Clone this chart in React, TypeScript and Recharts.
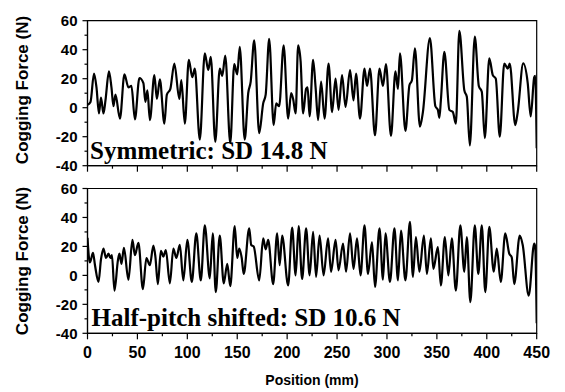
import { LineChart, Line, XAxis, YAxis, ReferenceArea } from "recharts";

// Symmetric magnet layout — peaks / troughs
const symPos = [
  0, 3, 6.5, 9, 11.5, 13.5, 16, 18, 21.5, 24, 26, 28, 32.5, 37, 41, 44, 47.5, 52, 56, 58,
  60, 62.5, 67, 69.5, 72.5, 77, 79.5, 83, 87, 92, 94, 97.5, 101.5, 105, 107.5, 112.5, 117.5, 121, 123.5, 128,
  132.5, 135, 138, 143, 147, 150, 152.5, 157.5, 161, 163.5, 167, 172, 176, 178.5, 182, 186.5, 189, 192, 196.5, 201,
  204, 206, 208.5, 211, 213.5, 216, 219, 220.5, 222.5, 226, 228.5, 231, 234, 237.5, 241.5, 245, 248.5, 251.5, 255, 258.5,
  263, 266.5, 269, 273, 277.5, 280, 283, 288, 292.5, 296, 299, 304, 308.5, 311, 313, 318.5, 322.5, 325, 328, 333,
  336, 343, 348.5, 351, 352.5, 354, 357.5, 362.5, 366, 369, 372.5, 377.5, 380, 383, 388, 392, 395, 398, 402.5, 406,
  409, 413, 417.5, 421, 423, 428.5, 431, 436.5, 441, 444, 447.5, 448.5, 450,
];
const symForce = [
  2, 4, 23.5, 14, -4, 7, -4, 5, 25, 14, 1, 9, -7.5, 23, 14, 15, -8, 20.5, 17, 4,
  12, -8.5, 22.5, 6, 19.5, -11, 9, 13, 30.5, 6, 19, -11, 33, 21, 27, -22, 37.5, 26, 35, -23.5,
  27, 22, 36, -24.5, 30, 23, 42, -22, 10, 18, 46.5, -17.5, 3, 9, 47.5, -12, 3, 1, 43, -7.5,
  10, 6, -4, 43, 32, -4, 13, 14, -6, 33, 14, -8.5, 18, -7.5, 30.5, -3, 20, -1.5, 22.5, 0.5,
  26, 5, 23.5, -7.5, 27, 15, 27, -19, 27, 15, 30, -19.5, 25, 13, 37.5, -16, 15.5, 19, 41, -13,
  -3, 48, 1, -1.5, -7, 5, 38.5, -1.5, -3, -11, 53, 12, 7.5, -26, 49, 15, 11, -21, 34, 22.5,
  20, -20, 30.5, 27, 30.5, -12, -3, 30.5, 17, -6, 21, 22, -28,
];

// Half-pitch shifted layout
const halfPos = [
  0, 1.5, 2.5, 5.5, 7.5, 11, 13.5, 16, 18.5, 21, 23, 24.5, 27, 30.5, 32, 34, 36.5, 41, 45, 47.5,
  51, 55.5, 59, 62.5, 66, 68, 70.5, 73.5, 76, 78.5, 82.5, 86, 89, 92.5, 96, 100, 104.5, 109, 113.5, 117.5,
  122.5, 125.5, 128.5, 132.5, 136.5, 140, 143, 147.5, 150, 152, 154.5, 156.5, 162, 164, 166.5, 172, 176, 178.5, 181, 186,
  190, 192.5, 195, 201, 205, 208.5, 211.5, 215, 219, 222.5, 226, 229, 232.5, 236.5, 241, 244, 248.5, 251.5, 256, 259,
  263, 266.5, 270, 273.5, 277.5, 281, 285, 288, 292.5, 296, 298.5, 303, 307.5, 311, 314, 318.5, 323, 326, 329, 332.5,
  337, 340, 344, 346.5, 351, 354, 358, 361.5, 365, 369, 373.5, 377.5, 380, 383.5, 388, 391.5, 395, 398.5, 402.5, 407,
  410, 414, 418.5, 422.5, 425, 427.5, 433, 436, 442, 447.5, 448.5, 450,
];
const halfForce = [
  26, 12, 9, 15.5, 7, -4.5, 11, 18.5, 12, 15, 12, 14, -10.5, 10.5, 15, 8, 19, -3, 24.5, 14,
  22.5, -9.5, 12, 7, 20.5, 13, -6, 17, 13, 17.5, -5.5, 18.5, 12, 21, -3.5, 24.5, -4.5, 29, -3.5, 34.5,
  -2, 29, -11.5, 27.5, -5.5, 8, -7.5, 34, 12, 18.5, 12, 1, 32.5, 21, 20, -3.5, 25.5, 18, 24.5, -6,
  29, 7, 27.5, -7, 33, 0, 34, -2.5, 32.5, 0, 30, -1, 27.5, 0, 25.5, 2.5, 24.5, 3.5, 22, 2.5,
  29, 4.5, 25.5, 0, 34.5, 1, 23, -8, 32.5, -3, 29, -4.5, 32.5, -3.5, 31, -3.5, 37, -1, 26.5, 2.5,
  27.5, 1, 25.5, 4.5, 19.5, -7, 26.5, 0, 25.5, -10.5, 34.5, 2.5, 26.5, -18.5, 34.5, 1, 34.5, -11.5, 33.5, 2.5,
  18.5, -4.5, 29, 15, 12.5, -6, 27.5, 21, -14, 22, 20, -33,
];

const xTicks = [0, 25, 50, 75, 100, 125, 150, 175, 200, 225, 250, 275, 300, 325, 350, 375, 400, 425, 450];
const yTicks = [-40, -30, -20, -10, 0, 10, 20, 30, 40, 50, 60];

const sans = "'Liberation Sans', Arial, sans-serif";
const serif = "'Liberation Serif', 'Times New Roman', serif";

const symData = symPos.map((p, i) => ({ pos: p, force: symForce[i] }));
const halfData = halfPos.map((p, i) => ({ pos: p, force: halfForce[i] }));

function YTick({ x, y, payload }: any) {
  const v = payload.value;
  const major = v % 20 === 0;
  return (
    <g>
      <line x1={x - (major ? 5 : 3)} x2={x} y1={y} y2={y} stroke="#000" strokeWidth={1.2} />
      {major && (
        <text x={x - 10} y={y} textAnchor="end" dominantBaseline="central"
          fontFamily={sans} fontWeight="bold" fontSize={15} fill="#000">
          {v}
        </text>
      )}
    </g>
  );
}

function XTick({ x, y, payload, labels }: any) {
  const v = payload.value;
  const major = v % 50 === 0;
  return (
    <g>
      <line x1={x} x2={x} y1={y} y2={y + (major ? 6 : 3)} stroke="#000" strokeWidth={1.2} />
      {labels && major && (
        <text x={x} y={y + 19} textAnchor="middle" dominantBaseline="central"
          fontFamily={sans} fontWeight="bold" fontSize={16} fill="#000">
          {v}
        </text>
      )}
    </g>
  );
}

function Panel({ data, top, height, margin, xHeight, labels }: any) {
  return (
    <div style={{ position: "absolute", left: 0, top }}>
      <LineChart width={565} height={height} data={data} margin={margin}>
        <XAxis type="number" dataKey="pos" domain={[0, 450]} ticks={xTicks} interval={0}
          allowDataOverflow height={xHeight} tickSize={0} tickMargin={0}
          axisLine={{ stroke: "#000", strokeWidth: 1.2 }}
          tick={(p: any) => <XTick {...p} labels={labels} />} />
        <YAxis type="number" domain={[-40, 60]} ticks={yTicks} interval={0}
          allowDataOverflow width={60} tickSize={0} tickMargin={0}
          axisLine={{ stroke: "#000", strokeWidth: 1.2 }}
          tick={(p: any) => <YTick {...p} />} />
        <ReferenceArea x1={0} x2={450} y1={-40} y2={60} fill="none" fillOpacity={0}
          stroke="#000" strokeWidth={1.2} />
        <Line type="monotone" dataKey="force" stroke="#000" strokeWidth={2.2}
          dot={false} isAnimationActive={false} />
      </LineChart>
    </div>
  );
}

export default function App() {
  return (
    <div style={{ position: "absolute", left: 0, top: 0, width: 565, height: 392, background: "#fff" }}>
      <Panel data={symData} top={0} height={181} xHeight={15}
        margin={{ top: 20.7, right: 28.3, bottom: 0.3, left: 27.5 }} labels={false} />
      <Panel data={halfData} top={168} height={224} xHeight={40}
        margin={{ top: 20.5, right: 28.3, bottom: 18.7, left: 27.5 }} labels={true} />
      <svg width={565} height={392} style={{ position: "absolute", left: 0, top: 0, pointerEvents: "none" }}>
        <text x={90} y={159} fontFamily={serif} fontWeight="bold" fontSize={25} fill="#000">
          Symmetric: SD 14.8 N
        </text>
        <text x={91.5} y={325.7} fontFamily={serif} fontWeight="bold" fontSize={25} fill="#000">
          Half-pitch shifted: SD 10.6 N
        </text>
        <text transform="translate(28,90) rotate(-90)" textAnchor="middle"
          fontFamily={sans} fontWeight="bold" fontSize={17} fill="#000">
          Cogging Force (N)
        </text>
        <text transform="translate(28,261) rotate(-90)" textAnchor="middle"
          fontFamily={sans} fontWeight="bold" fontSize={17} fill="#000">
          Cogging Force (N)
        </text>
        <text x={312} y={380} textAnchor="middle" dominantBaseline="central"
          fontFamily={sans} fontWeight="bold" fontSize={14} fill="#000">
          Position (mm)
        </text>
      </svg>
    </div>
  );
}
